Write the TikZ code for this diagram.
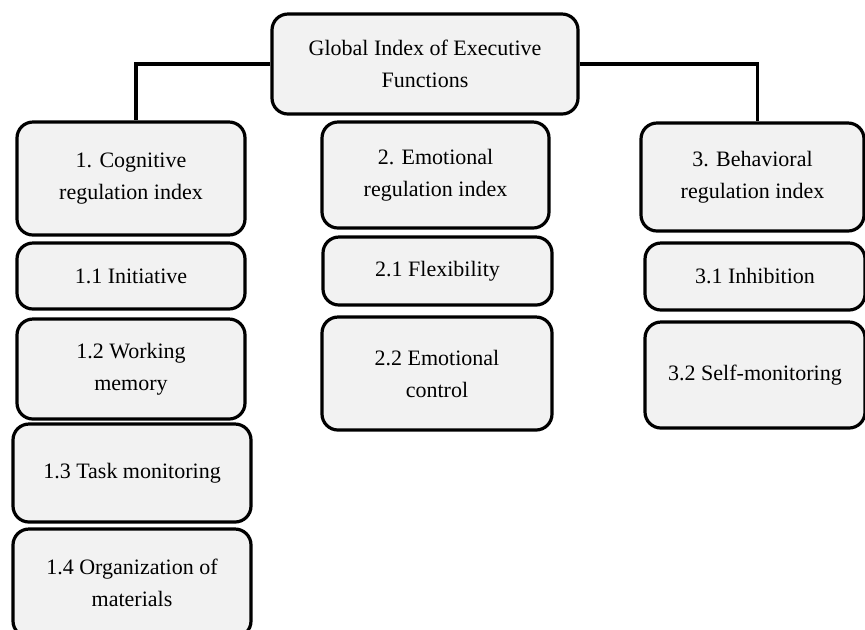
\documentclass[tikz,border=0pt]{standalone}
\usepackage{fontspec}
\setmainfont{Liberation Serif}
\usetikzlibrary{positioning}
\definecolor{boxgray}{HTML}{F2F2F2}
\tikzset{
  every picture/.style={line width=1.6pt}, % thick borders and lines
  box/.style 2 args={draw, rounded corners=8pt, fill=boxgray, align=center,
    minimum width=#1*0.5pt, minimum height=#2*0.5pt, inner sep=0pt,
    font=\fontsize{11}{16}\selectfont},
  link/.style={draw, sharp corners},
}

\begin{document}
\begin{tikzpicture}[x=0.5pt, y=-0.5pt]
  \useasboundingbox (0,0) rectangle (865,629);

  \node[box={306}{100}] (gief) at (425,64) {Global Index of Executive\\Functions};

  % cognitive column
  \node[box={228}{113}] (cri) at (131,178.5) {1. Cognitive\\regulation index};
  \node[box={228}{66}]  (c11) at (131,276) {1.1 Initiative};
  \node[box={228}{100}] (c12) at (131,369) {1.2 Working\\memory};
  \node[box={238}{98}]  (c13) at (132,473) {1.3 Task monitoring};
  \node[box={238}{108}] (c14) at (132,583) {1.4 Organization of\\materials};

  % emotional column
  \node[box={227}{106}] (eri) at (435.5,175) {2. Emotional\\regulation index};
  \node[box={229}{68}]  (e21) at (437.5,271) {2.1 Flexibility};
  \node[box={230}{113}] (e22) at (437,373.5) {2.2 Emotional\\control};

  % behavioral column
  \node[box={223}{108}] (bri) at (752.5,177) {3. Behavioral\\regulation index};
  \node[box={220}{67}]  (b31) at (755,276.5) {3.1 Inhibition};
  \node[box={220}{106}] (b32) at (755,375) {3.2 Self-monitoring};

  \draw[link] (gief.west) -| ([xshift=2.5pt]cri.north);
  \draw[link] (gief.east) -| ([xshift=2.5pt]bri.north);
\end{tikzpicture}
\end{document}
